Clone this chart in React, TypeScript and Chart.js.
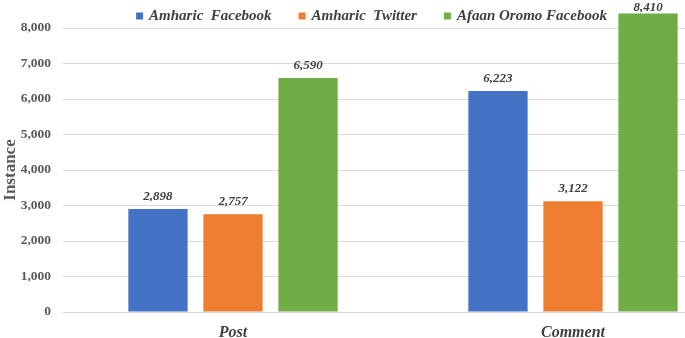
import React, { useEffect, useRef } from "react";
import { Chart, registerables } from "chart.js";

Chart.register(...registerables);

const categories = ["Post", "Comment"];
const seriesNames = ["Amharic  Facebook", "Amharic  Twitter", "Afaan Oromo Facebook"];
const amharicFacebook = [2898, 6223];
const amharicTwitter = [2757, 3122];
const afaanOromoFacebook = [6590, 8410];
const yTicks = [0, 1000, 2000, 3000, 4000, 5000, 6000, 7000, 8000];
const colors = ["#4472C4", "#ED7D31", "#70AD47"];

const FONT = "'Liberation Serif', 'Times New Roman', serif";

const valueLabels = {
  id: "valueLabels",
  afterDatasetsDraw(chart: any) {
    const ctx = chart.ctx;
    ctx.save();
    ctx.font = `italic bold 13px ${FONT}`;
    ctx.fillStyle = "#404040";
    ctx.textAlign = "center";
    ctx.textBaseline = "alphabetic";
    chart.data.datasets.forEach((ds: any, i: number) => {
      const meta = chart.getDatasetMeta(i);
      meta.data.forEach((el: any, j: number) => {
        const v = ds.data[j];
        const y = Math.max(el.y - 9, 11);
        ctx.fillText(v.toLocaleString("en-US"), el.x, y);
      });
    });
    ctx.restore();
  },
};

const topLegend = {
  id: "topLegend",
  afterDraw(chart: any) {
    const ctx = chart.ctx;
    ctx.save();
    ctx.font = `italic bold 15px ${FONT}`;
    ctx.textBaseline = "middle";
    ctx.textAlign = "left";
    const box = 7;
    const gap = 6;
    const spacing = 27;
    const items = chart.data.datasets.map((ds: any) => ({
      text: ds.label as string,
      color: ds.backgroundColor as string,
      w: ctx.measureText(ds.label).width,
    }));
    const total =
      items.reduce((s: number, it: any) => s + box + gap + it.w, 0) + spacing * (items.length - 1);
    let x = 371.5 - total / 2;
    const cy = 16;
    items.forEach((it: any) => {
      ctx.fillStyle = it.color;
      ctx.fillRect(x, cy - box / 2, box, box);
      ctx.fillStyle = "#404040";
      ctx.fillText(it.text, x + box + gap, cy);
      x += box + gap + it.w + spacing;
    });
    ctx.restore();
  },
};

export default function App() {
  const ref = useRef<HTMLCanvasElement>(null);
  useEffect(() => {
    if (!ref.current) return;
    const chart = new Chart(ref.current, {
      type: "bar",
      data: {
        labels: categories,
        datasets: [amharicFacebook, amharicTwitter, afaanOromoFacebook].map((d, i) => ({
          label: seriesNames[i],
          data: d,
          backgroundColor: colors[i],
          borderWidth: 0,
          categoryPercentage: 0.662,
          barPercentage: 0.79,
          clip: false as any,
        })),
      },
      options: {
        animation: false,
        responsive: false,
        maintainAspectRatio: false,
        layout: { padding: { left: 0, right: 1, top: 28, bottom: 0 } },
        plugins: {
          legend: { display: false },
          tooltip: { enabled: false },
        },
        scales: {
          x: {
            grid: { display: false },
            border: { display: false },
            afterFit: (s: any) => {
              s.height = 26;
            },
            ticks: {
              color: "#404040",
              padding: 3,
              font: { family: FONT, size: 16, style: "italic", weight: "bold" },
            },
          },
          y: {
            min: 0,
            max: 8000,
            afterBuildTicks: (scale: any) => {
              scale.ticks = yTicks.map((v) => ({ value: v }));
            },
            afterFit: (s: any) => {
              s.width = 63;
            },
            grid: { color: "#D9D9D9", lineWidth: 1, drawTicks: false },
            border: { display: false },
            ticks: {
              color: "#595959",
              padding: 12,
              font: { family: FONT, size: 13.5, weight: "bold" },
              callback: (v: any) => Number(v).toLocaleString("en-US"),
            },
            title: {
              display: true,
              text: "Instance",
              color: "#595959",
              padding: { top: 0, bottom: 2 },
              font: { family: FONT, size: 17, weight: "bold" },
            },
          },
        },
      },
      plugins: [valueLabels, topLegend],
    });
    return () => chart.destroy();
  }, []);
  return (
    <div
      style={{
        position: "fixed",
        left: 0,
        top: 0,
        width: 685,
        height: 338,
        overflow: "hidden",
        background: "#fff",
      }}
    >
      <canvas ref={ref} width={744} height={338} style={{ display: "block" }} />
    </div>
  );
}
